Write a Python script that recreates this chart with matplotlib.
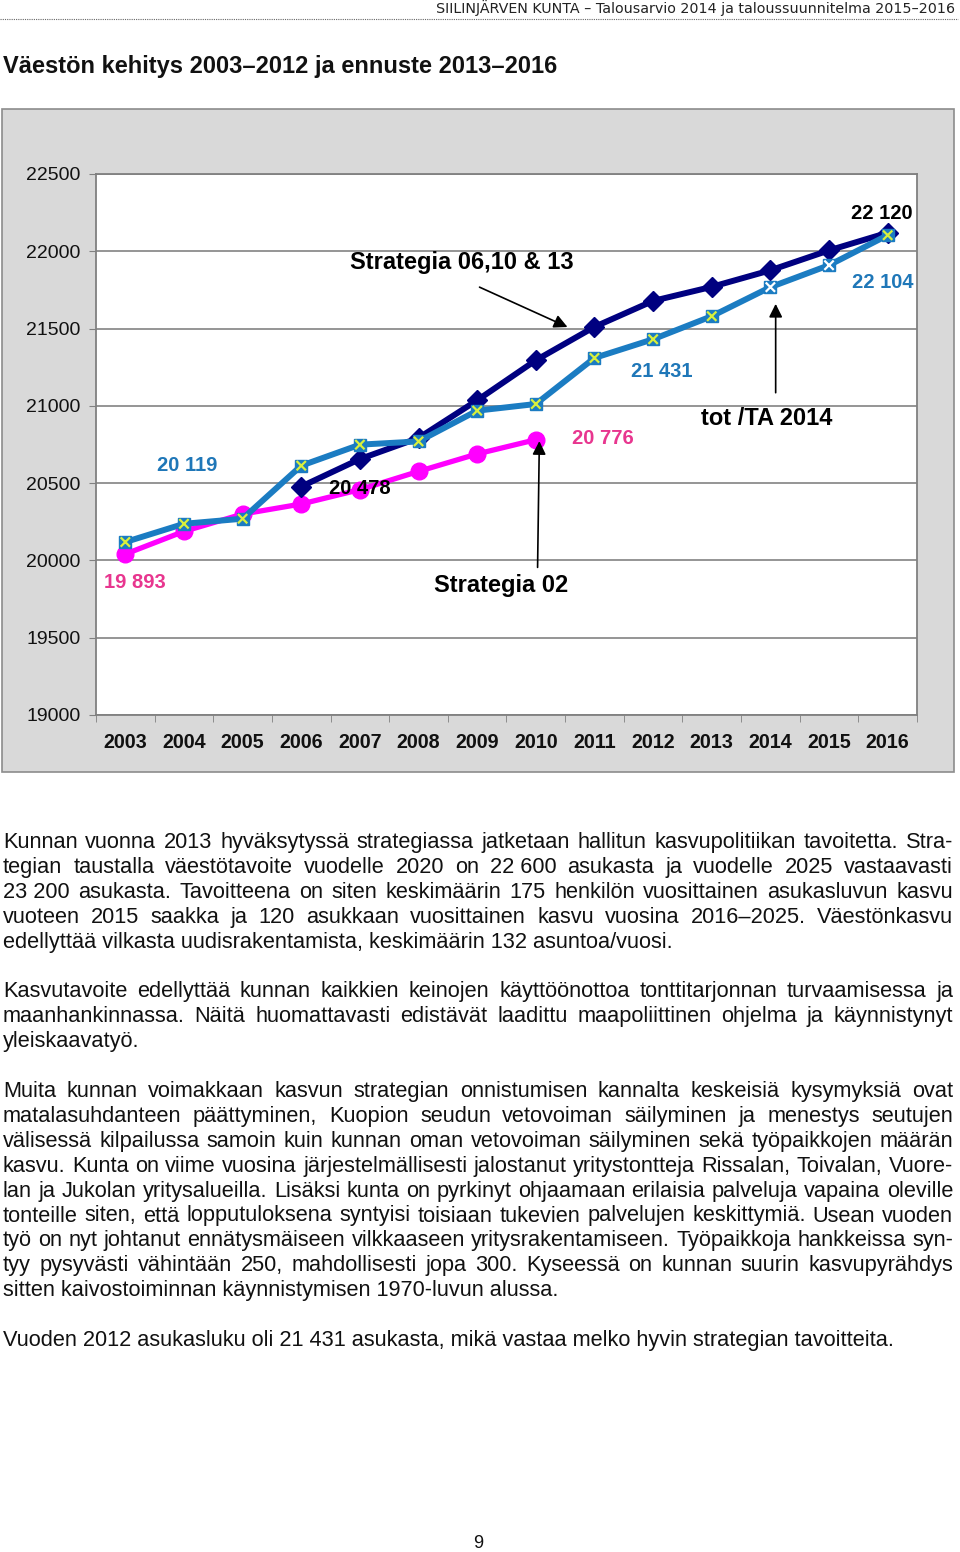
import matplotlib
matplotlib.use("Agg")
import matplotlib.pyplot as plt
import matplotlib.patches as mpatches
from matplotlib.lines import Line2D
import numpy as np

W, H = 960, 1552
NAN = np.nan

# data
years = [str(y) for y in range(2003, 2017)]
strategia_02 = [20041, 20188, 20300, 20365, 20458, 20576, 20689, 20781,
                NAN, NAN, NAN, NAN, NAN, NAN]
strategia_13 = [NAN, NAN, NAN, 20478, 20656, 20792, 21036, 21295,
                21511, 21679, 21770, 21877, 22006, 22120]
tot_ta_2014 = [20119, 20237, 20270, 20613, 20749, 20770, 20969, 21012,
               21310, 21431, 21580, 21768, 21910, 22104]
y_ticks = [19000, 19500, 20000, 20500, 21000, 21500, 22000, 22500]

# labels in the chart: (text, x index, value, color)
value_labels = [
    ("19 893", 0.16, 19860, "#e8368f"),
    ("20 119", 1.05, 20617, "#1f77b8"),
    ("20 478", 4.0, 20468, "black"),
    ("20 776", 8.14, 20792, "#e8368f"),
    ("21 431", 9.15, 21225, "#1f77b8"),
    ("22 120", 12.9, 22247, "black"),
    ("22 104", 12.92, 21801, "#1f77b8"),
]
series_labels = [
    # text, text pos, arrow start, arrow tip
    ("Strategia 06,10 & 13", (5.73, 21930), (6.04, 21768), (7.54, 21510)),
    ("Strategia 02", (6.4, 19841), (7.03, 19955), (7.06, 20772)),
    ("tot /TA 2014", (10.94, 20921), (11.09, 21085), (11.09, 21660)),
]

header = "SIILINJÄRVEN KUNTA \u2013 Talousarvio 2014 ja taloussuunnitelma 2015\u20132016"
title = "Väestön kehitys 2003\u20132012 ja ennuste 2013\u20132016"

NB = "\u00a0"
paragraphs = [
    ["Kunnan vuonna 2013 hyväksytyssä strategiassa jatketaan hallitun kasvupolitiikan tavoitetta. Stra-",
     f"tegian taustalla väestötavoite vuodelle 2020 on 22{NB}600 asukasta ja vuodelle 2025 vastaavasti",
     f"23{NB}200 asukasta. Tavoitteena on siten keskimäärin 175 henkilön vuosittainen asukasluvun kasvu",
     "vuoteen 2015 saakka ja 120 asukkaan vuosittainen kasvu vuosina 2016\u20132025. Väestönkasvu",
     "edellyttää vilkasta uudisrakentamista, keskimäärin 132 asuntoa/vuosi."],
    ["Kasvutavoite edellyttää kunnan kaikkien keinojen käyttöönottoa tonttitarjonnan turvaamisessa ja",
     "maanhankinnassa. Näitä huomattavasti edistävät laadittu maapoliittinen ohjelma ja käynnistynyt",
     "yleiskaavatyö."],
    ["Muita kunnan voimakkaan kasvun strategian onnistumisen kannalta keskeisiä kysymyksiä ovat",
     "matalasuhdanteen päättyminen, Kuopion seudun vetovoiman säilyminen ja menestys seutujen",
     "välisessä kilpailussa samoin kuin kunnan oman vetovoiman säilyminen sekä työpaikkojen määrän",
     "kasvu. Kunta on viime vuosina järjestelmällisesti jalostanut yritystontteja Rissalan, Toivalan, Vuore-",
     "lan ja Jukolan yritysalueilla. Lisäksi kunta on pyrkinyt ohjaamaan erilaisia palveluja vapaina oleville",
     "tonteille siten, että lopputuloksena syntyisi toisiaan tukevien palvelujen keskittymiä. Usean vuoden",
     "työ on nyt johtanut ennätysmäiseen vilkkaaseen yritysrakentamiseen. Työpaikkoja hankkeissa syn-",
     "tyy pysyvästi vähintään 250, mahdollisesti jopa 300. Kyseessä on kunnan suurin kasvupyrähdys",
     "sitten kaivostoiminnan käynnistymisen 1970-luvun alussa."],
    [f"Vuoden 2012 asukasluku oli 21{NB}431 asukasta, mikä vastaa melko hyvin strategian tavoitteita."],
]
page_no = "9"

# colours
NAVY = "#000080"
BLUE = "#1b7cc2"
PINK = "#ff00ff"
X_YELLOW = "#d8f03c"
x_colors = [X_YELLOW] * 11 + ["white", "white", X_YELLOW]

SANS = ["Liberation Sans", "DejaVu Sans"]
plt.rcParams["font.family"] = SANS


def fx(px):
    return px / W


def fy(py):
    return 1 - py / H


fig = plt.figure(figsize=(W / 100, H / 100), dpi=100)
fig.patch.set_facecolor("white")

# page header
fig.text(fx(955), fy(13.5), header, ha="right", va="baseline", fontsize=10.3,
         family=["DejaVu Sans"], color="#222222")
fig.add_artist(Line2D([fx(0), fx(958)], [fy(19), fy(19)], color="#666666",
                      lw=0.8, linestyle=(0, (1, 1))))
fig.text(fx(3), fy(72.5), title, ha="left", va="baseline", fontsize=17,
         fontweight="bold", color="#111111")

# chart frame
frame = mpatches.Rectangle((fx(2), fy(772)), fx(952), 663 / H,
                           transform=fig.transFigure, facecolor="#d9d9d9",
                           edgecolor="#8c8c8c", lw=1.2, zorder=0)
fig.add_artist(frame)

ax = fig.add_axes([fx(96), fy(715), fx(821), 541 / H])
ax.set_zorder(2)
ax.set_facecolor("white")
x = np.arange(len(years))

ax.plot(x, strategia_02, color=PINK, lw=3.8, marker="o", markersize=12,
        markeredgecolor=PINK, zorder=3)
ax.plot(x, strategia_13, color=NAVY, lw=4.3, marker="D", markersize=10,
        markeredgecolor=NAVY, zorder=4)
ax.plot(x, tot_ta_2014, color=BLUE, lw=4.3, marker="s", markersize=8,
        markeredgecolor=BLUE, zorder=5)
ax.scatter(x, tot_ta_2014, marker="x", s=45, c=x_colors, linewidths=1.6, zorder=6)

for txt, xi, val, col in value_labels:
    ax.text(xi, val, txt, ha="center", va="center", fontsize=14.5,
            fontweight="bold", color=col, zorder=7)

for txt, tpos, start, tip in series_labels:
    ax.text(tpos[0], tpos[1], txt, ha="center", va="center", fontsize=17,
            fontweight="bold", color="black", zorder=7)
    ax.annotate("", xy=tip, xytext=start,
                arrowprops=dict(arrowstyle="-|>", color="black", lw=1.2,
                                mutation_scale=20, shrinkA=0, shrinkB=0),
                zorder=7)

ax.set_xlim(-0.5, len(years) - 0.5)
ax.set_ylim(y_ticks[0], y_ticks[-1])
ax.set_yticks(y_ticks)
ax.set_yticklabels([str(v) for v in y_ticks], fontsize=14, color="#111111")
ax.set_xticks(x)
ax.set_xticklabels(years, fontsize=14.2, fontweight="bold", color="#111111")
ax.set_xticks(np.arange(len(years) + 1) - 0.5, minor=True)
ax.tick_params(axis="x", which="major", length=0, pad=13)
ax.tick_params(axis="x", which="minor", length=5, color="#808080", direction="out")
ax.tick_params(axis="y", which="major", length=5, color="#808080", pad=6)
ax.grid(axis="y", color="#8c8c8c", lw=1.3, zorder=1)
ax.set_axisbelow(True)
for side, sp in ax.spines.items():
    sp.set_color("#808080")
    sp.set_linewidth(1.3)

# body text, justified
renderer = fig.canvas.get_renderer()
X0, X1 = 3, 953
BASE0, LINE_H = 848, 24.9
BODY_FS = 15.7
k = 0
for para in paragraphs:
    for i, line in enumerate(para):
        yb = fy(BASE0 + LINE_H * k)
        last = i == len(para) - 1
        if last:
            fig.text(fx(X0), yb, line, ha="left", va="baseline",
                     fontsize=BODY_FS, color="#111111")
        else:
            words = line.split(" ")
            texts = [fig.text(0, yb, w, ha="left", va="baseline",
                              fontsize=BODY_FS, color="#111111") for w in words]
            widths = [t.get_window_extent(renderer).width for t in texts]
            gap = (X1 - X0 - sum(widths)) / (len(words) - 1)
            pos = X0
            for t, wd in zip(texts, widths):
                t.set_x(fx(pos))
                pos += wd + gap
        k += 1
    k += 1

fig.text(fx(478), fy(1548), page_no, ha="center", va="baseline",
         fontsize=13, color="#111111")

fig.savefig("out.png", dpi=100)
